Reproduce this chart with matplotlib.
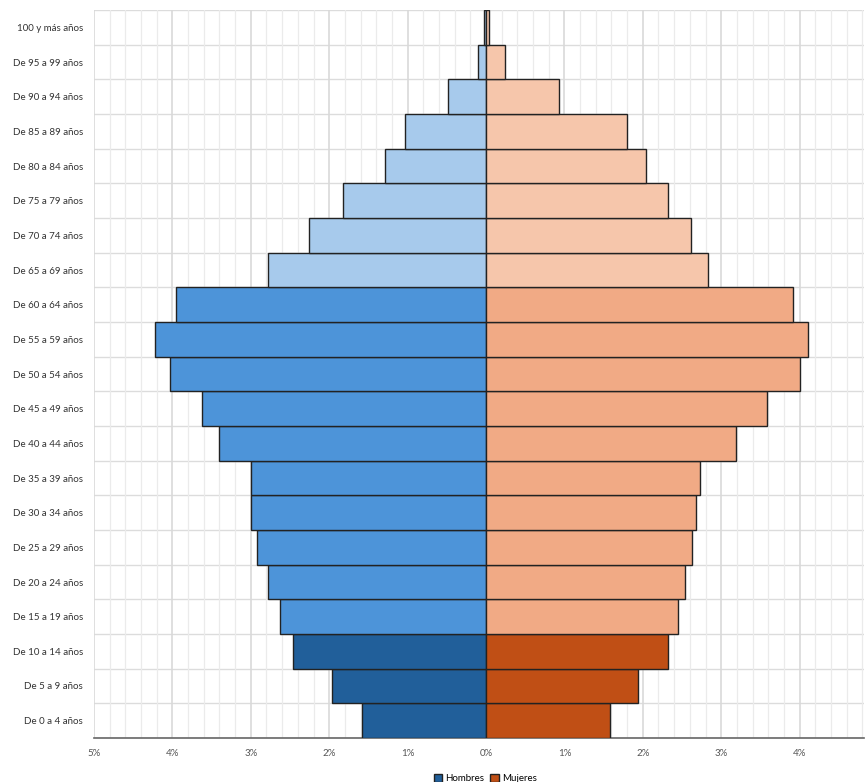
import matplotlib
matplotlib.use("Agg")
from matplotlib import pyplot as plt
from matplotlib import patches as patches
from matplotlib.ticker import MultipleLocator, FuncFormatter

plt.rcParams['font.family'] = ['Lato', 'DejaVu Sans']

# age groups, bottom to top
grupos = ['De 0 a 4 años', 'De 5 a 9 años', 'De 10 a 14 años', 'De 15 a 19 años',
          'De 20 a 24 años', 'De 25 a 29 años', 'De 30 a 34 años', 'De 35 a 39 años',
          'De 40 a 44 años', 'De 45 a 49 años', 'De 50 a 54 años', 'De 55 a 59 años',
          'De 60 a 64 años', 'De 65 a 69 años', 'De 70 a 74 años', 'De 75 a 79 años',
          'De 80 a 84 años', 'De 85 a 89 años', 'De 90 a 94 años', 'De 95 a 99 años',
          '100 y más años']

# percent of total population
hombres = [1.58, 1.96, 2.46, 2.63, 2.78, 2.92, 3.00, 3.00, 3.41, 3.62, 4.03, 4.22,
           3.95, 2.78, 2.26, 1.82, 1.29, 1.03, 0.48, 0.10, 0.03]
mujeres = [1.58, 1.94, 2.32, 2.45, 2.54, 2.63, 2.68, 2.73, 3.19, 3.58, 4.01, 4.11,
           3.92, 2.83, 2.61, 2.32, 2.04, 1.80, 0.93, 0.24, 0.04]

# colour by broad age band: 0-14, 15-64, 65+
azul = ['#215f9a'] * 3 + ['#4d94d9'] * 10 + ['#a7caec'] * 8
naranja = ['#c04f15'] * 3 + ['#f1aa85'] * 10 + ['#f6c6ab'] * 8

fig = plt.figure(figsize=(8.65, 7.82), dpi=100)
ax = fig.add_axes([0.1087, 0.0563, 0.890, 0.9307])

pos = list(range(len(grupos)))
ax.barh(pos, [-h for h in hombres], height=1.0, color=azul,
        edgecolor='#222222', linewidth=1.0, zorder=3)
ax.barh(pos, mujeres, height=1.0, color=naranja,
        edgecolor='#222222', linewidth=1.0, zorder=3)

ax.set_xlim(-5, 4.82)
ax.set_ylim(-0.5, len(grupos) - 0.5)
ax.set_yticks(pos)
ax.set_yticklabels(grupos, fontsize=7, color='#333333')
ax.xaxis.set_major_locator(MultipleLocator(1))
ax.xaxis.set_minor_locator(MultipleLocator(0.2))
ax.xaxis.set_major_formatter(FuncFormatter(lambda v, p: f'{abs(round(v)):d}%'))
ax.tick_params(axis='x', labelsize=7, colors='#555555', length=0, pad=8, which='both')
ax.tick_params(axis='y', length=0, pad=8)

# grid
ax.grid(axis='x', which='major', color='#d9d9d9', linewidth=1.2, zorder=0)
ax.grid(axis='x', which='minor', color='#ebebeb', linewidth=0.9, zorder=0)
for y in range(len(grupos) + 1):
    ax.axhline(y - 0.5, color='#dcdcdc', linewidth=1.0, zorder=0)

for s in ['top', 'right', 'left']:
    ax.spines[s].set_visible(False)
ax.spines['bottom'].set_color('#666666')
ax.spines['bottom'].set_linewidth(1.2)

# legend
handles = [patches.Patch(facecolor='#215f9a', edgecolor='#222222', label='Hombres'),
           patches.Patch(facecolor='#c04f15', edgecolor='#222222', label='Mujeres')]
fig.legend(handles=handles, loc='lower center', bbox_to_anchor=(0.561, -0.013), ncol=2,
           frameon=False, fontsize=7, handlelength=0.9, handleheight=0.9,
           handletextpad=0.3, columnspacing=0.6)

fig.savefig('out.png', dpi=100)
